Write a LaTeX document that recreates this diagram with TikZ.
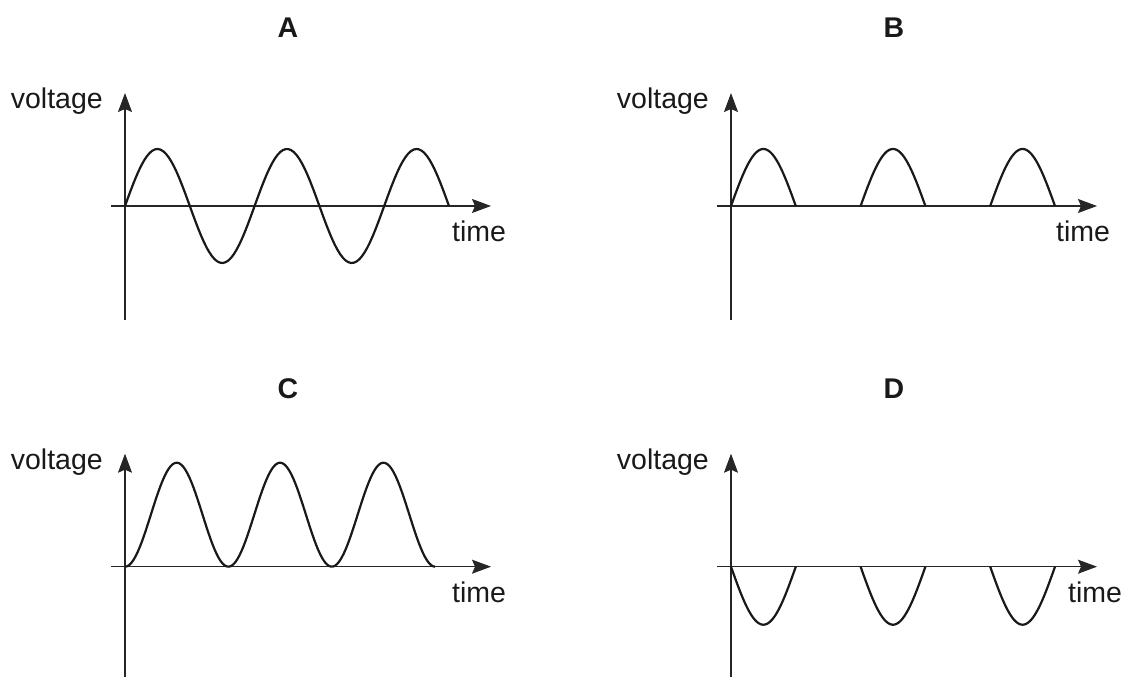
\documentclass[tikz,border=0pt]{standalone}
\usepackage{fontspec}
\setmainfont{Liberation Sans}
\usetikzlibrary{arrows.meta,positioning}

\tikzset{
  axis/.style={line width=1.2pt, black!85, -{Stealth[length=19pt,width=14pt,inset=3pt]}},
  wave/.style={line width=2.2pt, black!90, line join=round},
  lbl/.style={inner sep=0pt, font=\fontsize{28.5}{34}\selectfont, text=black!90},
  ttl/.style={inner sep=0pt, font=\fontsize{28.5}{34}\selectfont\bfseries, text=black!90},
}

% axes of one panel: #1 = panel name, #2 = x of the time label
\newcommand{\voltaxes}[2]{%
  \coordinate (#1-ybot) at (0,-114);
  \coordinate (#1-ytop) at (0,113);
  \coordinate (#1-xleft) at (-14,0);
  \coordinate (#1-xright) at (366,0);
  \draw[axis] (#1-ybot) -- (#1-ytop);
  \draw[axis] (#1-xleft) -- (#1-xright);
  \node[lbl, anchor=base east] (#1-volt) at (-22,97) {voltage};
  \node[lbl, anchor=base west] (#1-time) at (#2,-36) {time};
  \node[ttl, anchor=base] (#1-title) at (163,168) {#1};
}

\begin{document}
\begin{tikzpicture}[x=1pt, y=1pt]

  \useasboundingbox (0,0) rectangle (1122,677);

  % A: full sine wave
  \begin{scope}[shift={(125,471)}]
    \voltaxes{A}{327}
    \draw[wave] plot[domain=0:324, samples=120] (\x, {57*sin(\x/129.6*360)});
  \end{scope}

  % B: half-wave, positive humps only
  \begin{scope}[shift={(731,471)}]
    \voltaxes{B}{325}
    \foreach \s in {0, 129.6, 259.2}
      \draw[wave] plot[domain=\s:\s+64.8, samples=50] (\x, {57*sin((\x-\s)/129.6*360)});
  \end{scope}

  % C: raised humps touching the axis
  \begin{scope}[shift={(125,110.3)}]
    \voltaxes{C}{327}
    \draw[wave] plot[domain=0:310, samples=150] (\x, {52*(1-cos(\x/103.4*360))});
  \end{scope}

  % D: half-wave, negative humps only
  \begin{scope}[shift={(731,110.3)}]
    \voltaxes{D}{337}
    \foreach \s in {0, 129.6, 259.2}
      \draw[wave] plot[domain=\s:\s+64.8, samples=50] (\x, {-58*sin((\x-\s)/129.6*360)});
  \end{scope}

\end{tikzpicture}
\end{document}
